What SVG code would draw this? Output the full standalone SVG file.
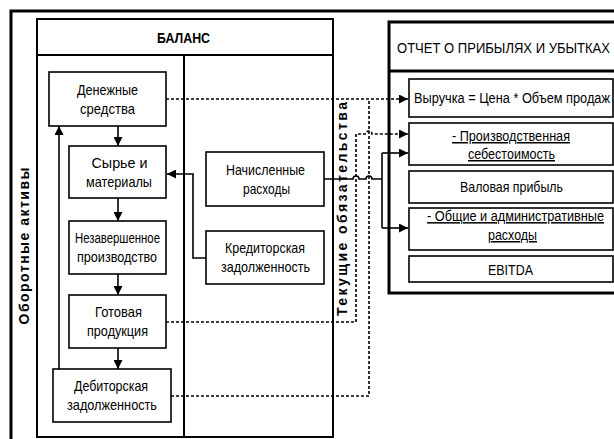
<svg xmlns="http://www.w3.org/2000/svg" width="614" height="439" viewBox="0 0 614 439">
<defs>
<style>
.frame{fill:none;stroke:#000;stroke-width:3}
.box{fill:#fff;stroke:#000;stroke-width:2}
.nb{fill:#fff;stroke:#000;stroke-width:1.6}
.t{font-family:"Liberation Sans",Arial,sans-serif;font-size:15px;fill:#000;text-anchor:middle}
.h{font-family:"Liberation Sans",Arial,sans-serif;font-size:15px;font-weight:bold;fill:#000;text-anchor:middle}
.v{font-family:"Liberation Sans",Arial,sans-serif;font-size:14px;font-weight:bold;fill:#000;text-anchor:middle}
.u{text-decoration:underline}
.s{fill:none;stroke:#000;stroke-width:1.6}
.d{fill:none;stroke:#000;stroke-width:1.6;stroke-dasharray:3 2}
</style>
<marker id="ah" markerWidth="9" markerHeight="9" refX="9" refY="4.5" orient="auto" markerUnits="userSpaceOnUse">
<path d="M0,0 L9,4.5 L0,9 z" fill="#000"/>
</marker>
</defs>
<rect width="614" height="439" fill="#fff"/>
<path class="frame" d="M11,439 V11 H614"/>

<g id="balance">
<rect class="box" x="37" y="19" width="296" height="418"/>
<line x1="37" y1="55" x2="333" y2="55" stroke="#000" stroke-width="2"/>
<line x1="184" y1="55" x2="184" y2="437" stroke="#000" stroke-width="2"/>
<text class="h" x="183.5" y="43" textLength="53" lengthAdjust="spacingAndGlyphs">БАЛАНС</text>
</g>

<g id="label-assets">
<text class="v" transform="translate(29,246) rotate(-90)" textLength="157" lengthAdjust="spacing">Оборотные активы</text>
</g>
<g id="label-liabilities">
<text class="v" transform="translate(347,209) rotate(-90)" textLength="214" lengthAdjust="spacing">Текущие обязательства</text>
</g>

<g id="pnl">
<rect x="389" y="22" width="235" height="271" fill="#fff" stroke="#000" stroke-width="3"/>
<line x1="389" y1="71" x2="614" y2="71" stroke="#000" stroke-width="3"/>
<text class="t" transform="translate(503.5,53) scale(0.85,1)" x="0" y="0" font-size="16" textLength="250.6" lengthAdjust="spacingAndGlyphs">ОТЧЕТ О ПРИБЫЛЯХ И УБЫТКАХ</text>
</g>

<g id="cash">
<rect class="nb" x="49" y="72" width="117" height="54"/>
<text class="t" x="107.5" y="94.5" textLength="61" lengthAdjust="spacingAndGlyphs">Денежные</text>
<text class="t" x="107.5" y="113.5" textLength="55" lengthAdjust="spacingAndGlyphs">средства</text>
</g>
<g id="raw">
<rect class="nb" x="69" y="146" width="97" height="52"/>
<text class="t" x="119.5" y="167.5" textLength="56" lengthAdjust="spacingAndGlyphs">Сырье и</text>
<text class="t" x="119" y="186.5" textLength="66" lengthAdjust="spacingAndGlyphs">материалы</text>
</g>
<g id="wip">
<rect class="nb" x="69" y="221" width="97" height="53"/>
<text class="t" x="117.5" y="243" textLength="85" lengthAdjust="spacingAndGlyphs">Незавершенное</text>
<text class="t" x="117" y="262" textLength="80" lengthAdjust="spacingAndGlyphs">производство</text>
</g>
<g id="finished">
<rect class="nb" x="69" y="295" width="97" height="53"/>
<text class="t" x="118.5" y="317" textLength="47" lengthAdjust="spacingAndGlyphs">Готовая</text>
<text class="t" x="117.5" y="336" textLength="61" lengthAdjust="spacingAndGlyphs">продукция</text>
</g>
<g id="receivables">
<rect class="nb" x="53" y="369" width="118" height="53"/>
<text class="t" x="111" y="391" textLength="74" lengthAdjust="spacingAndGlyphs">Дебиторская</text>
<text class="t" x="112" y="410" textLength="90" lengthAdjust="spacingAndGlyphs">задолженность</text>
</g>
<g id="accrued">
<rect class="nb" x="206" y="152" width="118" height="54"/>
<text class="t" x="265.5" y="174.5" textLength="79" lengthAdjust="spacingAndGlyphs">Начисленные</text>
<text class="t" x="266.5" y="193.5" textLength="47" lengthAdjust="spacingAndGlyphs">расходы</text>
</g>
<g id="payables">
<rect class="nb" x="206" y="231" width="118" height="53"/>
<text class="t" x="265" y="253" textLength="80" lengthAdjust="spacingAndGlyphs">Кредиторская</text>
<text class="t" x="265.5" y="272" textLength="89" lengthAdjust="spacingAndGlyphs">задолженность</text>
</g>

<g id="revenue">
<rect class="nb" x="409" y="79" width="204" height="38"/>
<text class="t" transform="translate(512,103) scale(0.85,1)" x="0" y="0" textLength="230.6" lengthAdjust="spacingAndGlyphs">Выручка = Цена * Объем продаж</text>
</g>
<g id="cogs">
<rect class="nb" x="409" y="123" width="204" height="42"/>
<text class="t u" x="511" y="141" textLength="118" lengthAdjust="spacingAndGlyphs">- Производственная</text>
<text class="t u" x="511.5" y="159" textLength="87" lengthAdjust="spacingAndGlyphs">себестоимость</text>
</g>
<g id="gross">
<rect class="nb" x="409" y="171" width="204" height="32"/>
<text class="t" x="511.5" y="192" textLength="103" lengthAdjust="spacingAndGlyphs">Валовая прибыль</text>
</g>
<g id="sga">
<rect class="nb" x="409" y="208" width="204" height="42"/>
<text class="t u" transform="translate(515.5,221) scale(0.85,1)" x="0" y="0" textLength="208.2" lengthAdjust="spacingAndGlyphs">- Общие и административные</text>
<text class="t u" x="512.5" y="240" textLength="49" lengthAdjust="spacingAndGlyphs">расходы</text>
</g>
<g id="ebitda">
<rect class="nb" x="409" y="256" width="204" height="26"/>
<text class="t" x="510.5" y="275" textLength="45" lengthAdjust="spacingAndGlyphs">EBITDA</text>
</g>

<g id="connectors">
<path class="s" d="M118,126 V146" marker-end="url(#ah)"/>
<path class="s" d="M118,198 V221" marker-end="url(#ah)"/>
<path class="s" d="M118,274 V295" marker-end="url(#ah)"/>
<path class="s" d="M118,348 V369" marker-end="url(#ah)"/>
<path class="s" d="M59,369 V126" marker-end="url(#ah)"/>
<path class="s" d="M206,258 H193 V174 H167" marker-end="url(#ah)"/>
<path class="d" d="M166,99 H408" marker-end="url(#ah)"/>
<path class="d" d="M171,396 H369 V99"/>
<path class="d" d="M166,322 H356 V134 H366 A3,3 0 0 1 372,134 H408" marker-end="url(#ah)"/>
<path class="s" d="M324,179 H353 A3,3 0 0 1 359,179 H366 A3,3 0 0 1 372,179 H382"/>
<path class="s" d="M382,153 V228"/>
<path class="s" d="M382,153 H408" marker-end="url(#ah)"/>
<path class="s" d="M382,228 H408" marker-end="url(#ah)"/>
</g>
</svg>
